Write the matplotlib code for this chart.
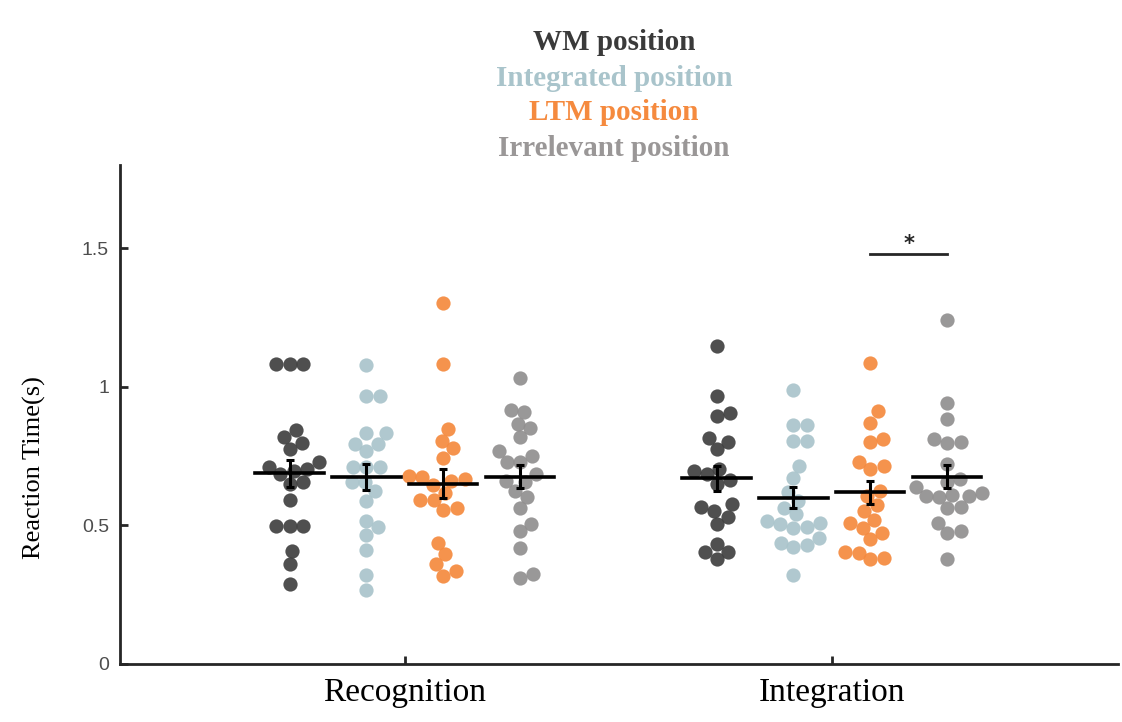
import numpy as np
import matplotlib.pyplot as plt

tasks = ['Recognition', 'Integration']
conditions = ['WM position', 'Integrated position', 'LTM position', 'Irrelevant position']
dot_colors = ['#404040', '#a9c4cb', '#f58a3e', '#918f8f']
text_colors = ['#3a3a3a', '#a9c4cb', '#f58a3e', '#9a9797']

# reaction times (s), one list per task x condition
rec_wm = [1.081, 1.081, 1.081, 0.844, 0.820, 0.796, 0.775, 0.727, 0.711, 0.703, 0.697,
          0.685, 0.655, 0.649, 0.592, 0.496, 0.496, 0.496, 0.407, 0.359, 0.289]
rec_int = [1.077, 0.965, 0.965, 0.833, 0.833, 0.793, 0.793, 0.769, 0.711, 0.711, 0.711,
           0.655, 0.655, 0.624, 0.588, 0.516, 0.494, 0.467, 0.411, 0.322, 0.268]
rec_ltm = [1.301, 1.083, 0.848, 0.806, 0.778, 0.743, 0.673, 0.679, 0.667, 0.660, 0.645,
           0.618, 0.590, 0.590, 0.564, 0.556, 0.437, 0.395, 0.359, 0.334, 0.319]
rec_irr = [1.031, 0.918, 0.908, 0.866, 0.850, 0.818, 0.769, 0.751, 0.729, 0.727, 0.685,
           0.657, 0.660, 0.624, 0.604, 0.562, 0.506, 0.479, 0.419, 0.326, 0.310]
int_wm = [1.147, 0.965, 0.906, 0.896, 0.815, 0.800, 0.775, 0.703, 0.697, 0.685, 0.663,
          0.651, 0.576, 0.565, 0.552, 0.530, 0.504, 0.434, 0.405, 0.405, 0.380]
int_int = [0.987, 0.862, 0.862, 0.806, 0.806, 0.715, 0.670, 0.620, 0.588, 0.562, 0.540,
           0.516, 0.510, 0.494, 0.504, 0.492, 0.453, 0.437, 0.429, 0.423, 0.322]
int_ltm = [1.087, 0.911, 0.870, 0.812, 0.800, 0.729, 0.715, 0.705, 0.624, 0.606, 0.572,
           0.552, 0.518, 0.510, 0.492, 0.473, 0.452, 0.403, 0.383, 0.401, 0.377]
int_irr = [1.240, 0.942, 0.884, 0.812, 0.796, 0.800, 0.721, 0.667, 0.657, 0.640, 0.606,
           0.603, 0.606, 0.609, 0.616, 0.564, 0.567, 0.510, 0.479, 0.473, 0.379]

groups = [[rec_wm, rec_int, rec_ltm, rec_irr], [int_wm, int_int, int_ltm, int_irr]]


def swarm(ys_px, d):
    # simple beeswarm in pixel space, returns x offsets
    order = np.argsort(ys_px)
    placed = []
    xs = np.zeros(len(ys_px))
    for i in order:
        y = ys_px[i]
        cands = [0.0]
        for px, py in placed:
            dy = abs(py - y)
            if dy < d:
                dx = np.sqrt(d * d - dy * dy)
                cands += [px + dx, px - dx]
        cands.sort(key=abs)
        for c in cands:
            if all((c - px) ** 2 + (y - py) ** 2 >= d * d - 1e-6 for px, py in placed):
                xs[i] = c
                placed.append((c, y))
                break
    return xs


fig = plt.figure(figsize=(11.22, 7.22), dpi=100)
ax = fig.add_axes([120 / 1122, 58 / 722, 998 / 1122, 499 / 722])
ax.set_xlim(0.333, 2.67)
ax.set_ylim(0, 1.8)

offsets = [-0.27, -0.09, 0.09, 0.27]
for t, task_groups in enumerate(groups):
    for c, vals in enumerate(task_groups):
        vals = np.array(vals)
        xc = t + 1 + offsets[c]
        pts = ax.transData.transform(np.column_stack([np.full(len(vals), xc), vals]))
        dx = swarm(pts[:, 1], 13.5)
        data = ax.transData.inverted().transform(np.column_stack([pts[:, 0] + dx, pts[:, 1]]))
        ax.scatter(data[:, 0], vals, s=105, color=dot_colors[c], alpha=0.92,
                   linewidths=0, zorder=2)
        m = vals.mean()
        sem = vals.std(ddof=1) / np.sqrt(len(vals))
        ax.plot([xc - 0.08, xc + 0.08], [m, m], color='k', lw=2.6, zorder=3)
        ax.errorbar(xc, m, yerr=sem, color='k', lw=2.2, capsize=3, capthick=2.2, zorder=3)

# significance marker
ax.plot([2.09, 2.27], [1.48, 1.48], color='#262626', lw=2)
ax.text(2.18, 1.515, '*', ha='center', va='center', fontsize=15, fontweight='bold',
        color='#262626')

for s in ['top', 'right']:
    ax.spines[s].set_visible(False)
for s in ['left', 'bottom']:
    ax.spines[s].set_linewidth(2)
    ax.spines[s].set_color('#262626')

ax.set_yticks([0, 0.5, 1, 1.5])
ax.set_yticklabels(['0', '0.5', '1', '1.5'], family='Liberation Sans', fontsize=14, color='#4d4d4d')
ax.tick_params(axis='y', direction='in', length=6, width=2, color='#262626', pad=8)
ax.set_xticks([1, 2])
ax.set_xticklabels(tasks, family='Liberation Serif', fontsize=24)
ax.tick_params(axis='x', direction='in', length=6, width=2, color='#262626', pad=10)
ax.set_ylabel('Reaction Time(s)', family='Liberation Serif', fontsize=19)
ax.yaxis.set_label_coords(-0.074, 0.393)

for i, (name, col) in enumerate(zip(conditions, text_colors)):
    fig.text(614 / 1122, 1 - (43 + 35 * i) / 722, name, ha='center', va='center',
             family='Liberation Serif', fontweight='bold', fontsize=21, color=col)

fig.savefig('out.png', dpi=100)
